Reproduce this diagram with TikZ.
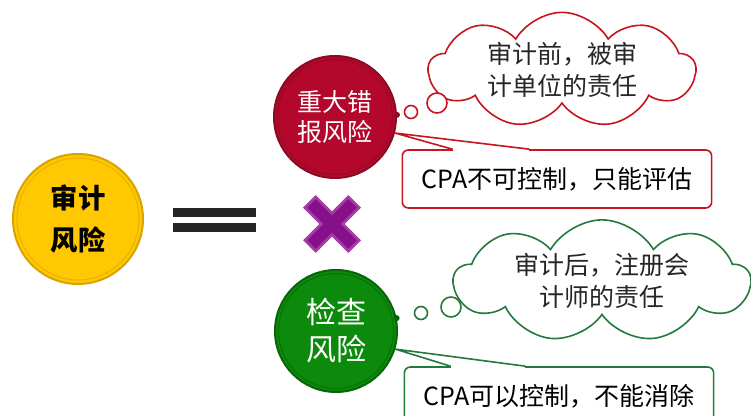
\documentclass[tikz,border=0pt]{standalone}
\usepackage{fontspec}
\setmainfont{Noto Sans CJK SC}
\usepackage{tikz}
\usetikzlibrary{shapes.symbols,calc}

\definecolor{goldfill}{HTML}{FFC800}
\definecolor{goldrim}{HTML}{D9A300}
\definecolor{misred}{HTML}{B3082C}
\definecolor{misrim}{HTML}{8C0A22}
\definecolor{detgreen}{HTML}{0B8A0B}
\definecolor{detrim}{HTML}{066506}
\definecolor{boxred}{HTML}{C8141E}
\definecolor{boxgreen}{HTML}{237A3C}
\definecolor{xbevel}{HTML}{A53AA5}
\definecolor{xface}{HTML}{86108A}

\begin{document}
\begin{tikzpicture}[x=0.75pt,y=-0.75pt,font=\fontsize{18.75}{24}\selectfont,
  riskball/.style={circle,inner sep=0pt,minimum size=91.5pt,line width=1.5pt,align=center,text=white},
  notebox/.style={rectangle,draw,fill=white,rounded corners=4.5pt,line width=1.2pt,minimum width=232pt,minimum height=43.5pt},
  thought/.style={cloud,cloud puffs=9,cloud puff arc=120,cloud ignores aspect,draw,fill=white,line width=1.2pt,align=center,inner sep=0pt,text=black!85},
  bubble/.style={draw,fill=white,line width=1.2pt}]
\path[use as bounding box,clip] (0,0) rectangle (751,416);

\node[riskball,minimum size=97.5pt,fill=goldfill,draw=goldrim,text=black,font=\fontsize{20.5}{31.5}\selectfont\bfseries] (audit) at (78,219) {审计\\风险};
\draw[goldrim!60!goldfill,line width=0.8pt] (audit.center) circle (61);
\fill[black!85] (173,208) rectangle (256,217);
\fill[black!85] (173,223) rectangle (256,232);

\node[riskball,fill=misred,draw=misrim,font=\fontsize{18.75}{22.5}\selectfont] (mis) at (335,117) {重大错\\报风险};
\draw[misrim!70!misred,line width=0.8pt] (mis.center) circle (57.5);
\node[riskball,fill=detgreen,draw=detrim,font=\fontsize{22.5}{27.75}\selectfont] (det) at (336,331) {检查\\风险};
\draw[detrim!70!detgreen,line width=0.8pt] (det.center) circle (57.5);

\begin{scope}[shift={(332,224)},rotate=45]
\foreach \w/\l/\c in {9/32/xbevel,6/29/xface}
  \fill[\c] (-\w,-\l) -- (\w,-\l) -- (\w,-\w) -- (\l,-\w) -- (\l,\w) -- (\w,\w) -- (\w,\l) -- (-\w,\l) -- (-\w,\w) -- (-\l,\w) -- (-\l,-\w) -- (-\w,-\w) -- cycle;
\end{scope}

\node[thought,draw=boxred,minimum width=200pt,minimum height=80pt] (before) at (562,70) {审计前，被审\\计单位的责任};
\fill[misrim] (mis.2) circle (3);
\draw[bubble,draw=boxred] (411,112) circle (6.5);
\draw[bubble,draw=boxred] (437,103) circle (10);

\node[thought,draw=boxgreen,minimum width=222pt,minimum height=75pt] (after) at (602,281) {审计后，注册会\\计师的责任};
\fill[detrim] (det.12) circle (3);
\draw[bubble,draw=boxgreen] (421,313) circle (6.5);
\draw[bubble,draw=boxgreen] (451,307) circle (10);

\node[notebox,draw=boxred] (ctrlno) at (557,179) {CPA不可控制，只能评估};
\coordinate (ra) at ($(ctrlno.north west)+(51,0)$);
\coordinate (rb) at ($(ctrlno.north west)+(128,0)$);
\fill[white] (mis.-15) -- (ra) -- (rb) -- cycle;
\fill[white] ($(ra)+(0.5,-2)$) rectangle ($(rb)+(-0.5,2)$);
\draw[boxred,line width=1.2pt] (ra) -- (mis.-15) -- (rb);

\node[notebox,draw=boxgreen] (ctrlyes) at (559,396) {CPA可以控制，不能消除};
\coordinate (ga) at ($(ctrlyes.north west)+(47,0)$);
\coordinate (gb) at ($(ctrlyes.north west)+(122,0)$);
\fill[white] (det.-17) -- (ga) -- (gb) -- cycle;
\fill[white] ($(ga)+(0.5,-2)$) rectangle ($(gb)+(-0.5,2)$);
\draw[boxgreen,line width=1.2pt] (ga) -- (det.-17) -- (gb);
\end{tikzpicture}
\end{document}
